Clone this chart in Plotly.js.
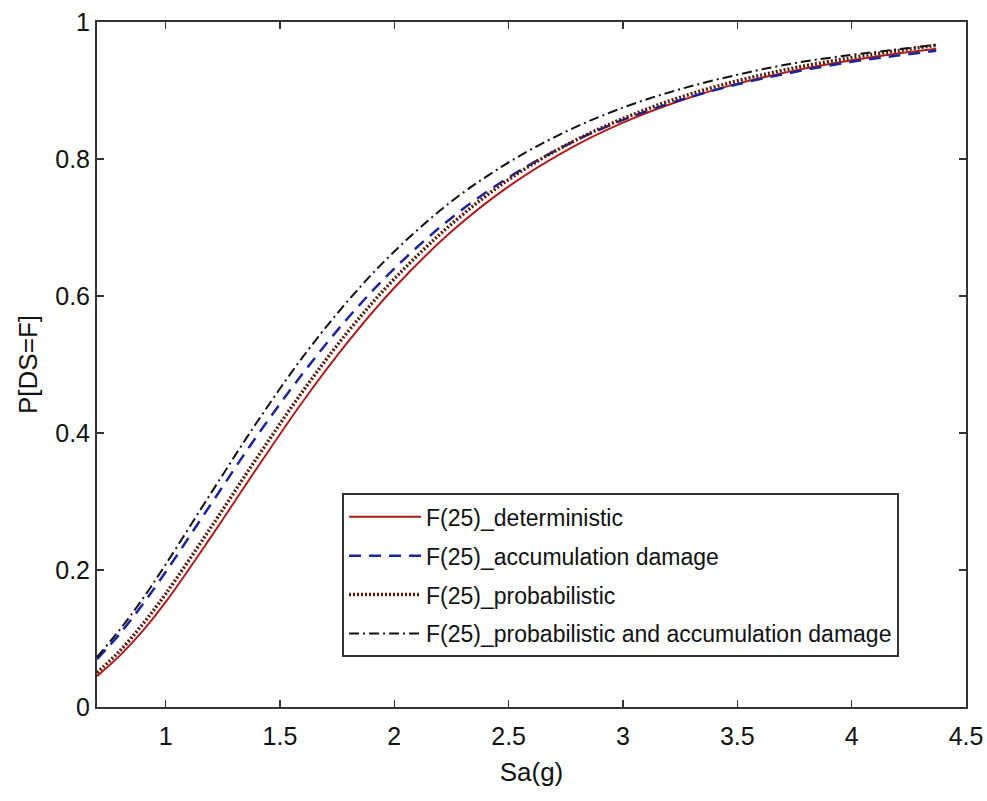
<!DOCTYPE html>
<html>
<head>
<meta charset="utf-8">
<script src="https://cdn.plot.ly/plotly-3.0.1.min.js"></script>
<style>
html,body{margin:0;padding:0;background:#fff;}
#chart{width:987px;height:801px;}
</style>
</head>
<body>
<div id="chart"></div>
<script>
// Sa(g) sample points
const sa = [0.7, 0.8, 0.9, 1.0, 1.2, 1.4, 1.6, 1.8, 2.0, 2.25, 2.5, 2.75, 3.0, 3.25, 3.5, 3.75, 4.0, 4.2, 4.37];

// P[DS=F] for each series
const deterministic = [0.045, 0.075, 0.111, 0.153, 0.249, 0.349, 0.446, 0.534, 0.612, 0.694, 0.760, 0.812, 0.853, 0.885, 0.910, 0.929, 0.944, 0.954, 0.961];
const accumulation  = [0.070, 0.107, 0.150, 0.197, 0.297, 0.396, 0.487, 0.569, 0.640, 0.714, 0.773, 0.820, 0.857, 0.886, 0.909, 0.927, 0.942, 0.951, 0.958];
const probabilistic = [0.050, 0.082, 0.121, 0.165, 0.263, 0.364, 0.461, 0.549, 0.625, 0.705, 0.770, 0.820, 0.859, 0.890, 0.914, 0.933, 0.948, 0.958, 0.966];
const probAccum     = [0.073, 0.113, 0.158, 0.208, 0.313, 0.416, 0.511, 0.594, 0.665, 0.738, 0.795, 0.840, 0.875, 0.902, 0.923, 0.940, 0.952, 0.960, 0.967];

const names = [
  "F(25)_deterministic",
  "F(25)_accumulation damage",
  "F(25)_probabilistic",
  "F(25)_probabilistic and accumulation damage"
];

const xTicks = [1, 1.5, 2, 2.5, 3, 3.5, 4, 4.5];
const yTicks = [0, 0.2, 0.4, 0.6, 0.8, 1];

const font = "Liberation Sans, Arial, sans-serif";

const traces = [
  {x: sa, y: deterministic, name: names[0], legendgroup: "a",
   line: {color: "#b01c1c", width: 2, dash: "solid", shape: "spline"}},
  {x: sa, y: accumulation, name: names[1], legendgroup: "b",
   line: {color: "#1c249c", width: 2.5, dash: "12px,8px", shape: "spline"}},
  {x: sa, y: probabilistic, name: names[2], legendgroup: "c",
   line: {color: "#5a1a08", width: 3.5, dash: "2px,2px", shape: "spline"}},
  {x: sa, y: probAccum, name: names[3], legendgroup: "d",
   line: {color: "#111111", width: 2, dash: "10px,4px,2px,4px", shape: "spline"}}
].map(t => Object.assign({type: "scatter", mode: "lines"}, t));

const axisCommon = {
  showgrid: false,
  zeroline: false,
  showline: true,
  linecolor: "#333",
  linewidth: 2,
  mirror: "ticks",
  ticks: "inside",
  ticklen: 7,
  tickwidth: 1.5,
  tickcolor: "#333",
  tickfont: {family: font, size: 25, color: "#111"}
};

const layout = {
  width: 987,
  height: 801,
  paper_bgcolor: "#fff",
  plot_bgcolor: "#fff",
  margin: {l: 97, r: 21, t: 22, b: 94},
  showlegend: true,
  xaxis: Object.assign({}, axisCommon, {
    range: [0.7, 4.5],
    tickvals: xTicks,
    ticktext: xTicks.map(String),
    ticklabelstandoff: 6,
    title: {text: "Sa(g)", font: {family: font, size: 26, color: "#111"}, standoff: 14}
  }),
  yaxis: Object.assign({}, axisCommon, {
    range: [0, 1],
    tickvals: yTicks,
    ticktext: yTicks.map(String),
    title: {text: "P[DS=F]", font: {family: font, size: 26, color: "#111"}, standoff: 10}
  }),
  legend: {
    x: 0.282, y: 0.312, xanchor: "left", yanchor: "top",
    bgcolor: "#fff",
    bordercolor: "#333",
    borderwidth: 2,
    font: {family: font, size: 23, color: "#111"},
    tracegroupgap: 6,
    itemwidth: 72
  }
};

Plotly.newPlot("chart", traces, layout, {displayModeBar: false, staticPlot: true});
</script>
</body>
</html>
